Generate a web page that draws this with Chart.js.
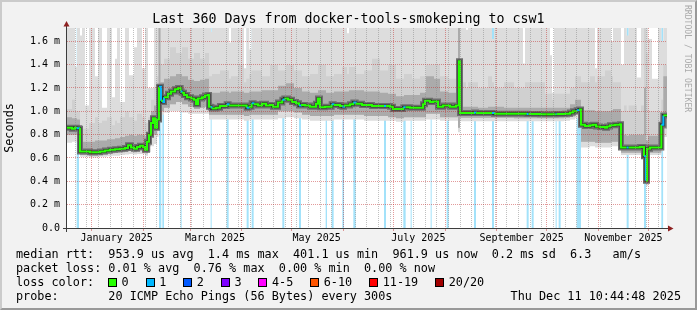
<!DOCTYPE html>
<html lang="en">
<head>
  <meta charset="UTF-8" />
  <title>Last 360 Days from docker-tools-smokeping to csw1</title>
  <script src="https://cdn.jsdelivr.net/npm/chart.js"></script>
  <style>
    html, body { margin: 0; padding: 0; }
    body {
      width: 697px; height: 310px; position: relative; overflow: hidden;
      background: #f2f2f2; color: #000;
      font-family: "DejaVu Sans Mono", monospace;
    }
    canvas { position: absolute; left: 0; top: 0; }
    .frame {
      position: absolute; left: 0; top: 0; width: 697px; height: 310px; box-sizing: border-box;
      border-top: 2px solid #cbcbcb; border-left: 2px solid #cbcbcb;
      border-right: 2px solid #999; border-bottom: 2px solid #999;
      pointer-events: none;
    }
    .title { position: absolute; top: 11px; left: 0; width: 697px; text-align: center; font-size: 13.3px; line-height: 16px; }
    .mark { position: absolute; left: 683px; top: 5px; writing-mode: vertical-rl; font-size: 8.1px; color: #aaa; white-space: pre; }
    .row { position: absolute; left: 16px; font-size: 11.8px; line-height: 14px; white-space: pre; }
    #lossLegend { position: absolute; left: 108px; top: 275px; height: 14px; display: flex; align-items: center; font-size: 11.8px; white-space: pre; }
    .item { display: flex; align-items: center; margin-right: 16.9px; }
    .sw { width: 7px; height: 7px; border: 1px solid #000; margin-right: 4.6px; }
  </style>
</head>
<body>
  <canvas id="smoke" width="697" height="310"></canvas>
  <div class="title">Last 360 Days from docker-tools-smokeping to csw1</div>
  <div class="mark">RRDTOOL / TOBI OETIKER</div>
  <div class="row" style="top:247px">median rtt:  953.9 us avg  1.4 ms max  401.1 us min  961.9 us now  0.2 ms sd  6.3   am/s</div>
  <div class="row" style="top:261px">packet loss: 0.01 % avg  0.76 % max  0.00 % min  0.00 % now</div>
  <div class="row" style="top:275px">loss color:</div>
  <div id="lossLegend"></div>
  <div class="row" style="top:289px">probe:       20 ICMP Echo Pings (56 Bytes) every 300s</div>
  <div class="row" style="top:289px; left:auto; right:16px">Thu Dec 11 10:44:48 2025</div>
  <div class="frame"></div>

  <script>
    // x values are days since the left edge of the graph, y values are milliseconds
    const medianDay = [
      0.0, 3.0, 4.8, 5.8, 7.2, 7.8, 13.8, 19.8, 22.8, 25.8,
      28.8, 31.8, 34.8, 36.6, 38.4, 40.2, 42.0, 43.8, 45.6, 46.8,
      48.0, 49.2, 50.4, 51.6, 52.8, 54.0, 55.2, 56.4, 57.2, 58.2,
      60.6, 62.4, 64.8, 66.6, 68.2, 68.8, 70.2, 72.0, 74.4, 76.2,
      77.4, 78.6, 81.0, 82.8, 84.6, 85.2, 86.2, 86.8, 89.4, 91.8,
      95.8, 97.0, 103.8, 107.8, 109.0, 110.8, 112.0, 114.6, 117.0, 119.4,
      121.8, 123.6, 126.6, 129.2, 130.4, 132.6, 135.0, 137.4, 139.2, 140.4,
      142.8, 145.8, 149.4, 150.6, 151.8, 154.8, 158.8, 160.0, 163.8, 165.2,
      166.2, 169.8, 171.8, 173.2, 177.0, 183.0, 190.2, 191.4, 193.8, 195.6,
      201.8, 203.2, 205.8, 211.8, 213.6, 214.8, 217.8, 219.6, 222.6, 225.6,
      229.8, 233.4, 235.2, 235.8, 244.2, 245.4, 255.0, 256.2, 266.0, 275.8,
      277.0, 283.8, 293.2, 293.8, 298.8, 301.8, 303.6, 305.8, 307.2, 308.4,
      310.8, 313.8, 315.6, 317.4, 319.8, 322.8, 324.0, 325.8, 328.8, 331.8,
      332.4, 335.8, 337.0, 343.8, 346.2, 347.4, 348.0, 349.8, 356.6, 357.8,
      360.0
    ];
    const medianMs = [
      0.86, 0.85, 0.86, 0.855, 0.85, 0.655, 0.65, 0.655, 0.665, 0.67,
      0.675, 0.68, 0.685, 0.71, 0.69, 0.68, 0.695, 0.705, 0.695, 0.67,
      0.74, 0.80, 0.90, 0.94, 0.86, 0.93, 1.21, 1.09, 1.08, 1.12,
      1.15, 1.17, 1.19, 1.20, 1.17, 1.16, 1.14, 1.12, 1.11, 1.10,
      1.06, 1.11, 1.12, 1.135, 1.14, 1.04, 1.035, 1.025, 1.03, 1.045,
      1.06, 1.05, 1.05, 1.03, 1.04, 1.07, 1.06, 1.05, 1.065, 1.05,
      1.055, 1.04, 1.075, 1.10, 1.11, 1.10, 1.08, 1.07, 1.05, 1.055,
      1.05, 1.04, 1.065, 1.11, 1.035, 1.04, 1.06, 1.055, 1.045, 1.04,
      1.05, 1.06, 1.075, 1.065, 1.055, 1.045, 1.045, 1.045, 1.04, 1.02,
      1.035, 1.035, 1.03, 1.03, 1.06, 1.09, 1.08, 1.085, 1.04, 1.05,
      1.04, 1.05, 1.43, 0.985, 0.99, 0.985, 0.985, 0.98, 0.98, 0.977,
      0.977, 0.975, 0.977, 0.977, 0.98, 0.99, 1.0, 1.01, 1.015, 0.885,
      0.875, 0.88, 0.885, 0.87, 0.865, 0.86, 0.87, 0.88, 0.885, 0.89,
      0.69, 0.69, 0.69, 0.695, 0.615, 0.405, 0.68, 0.69, 0.885, 0.965,
      0.965
    ];
    // lost pings (out of 20) for each median step
    const medianLoss = [
      0, 0, 0, 1, 0, 0, 0, 0, 0, 0,
      0, 0, 0, 0, 0, 0, 0, 0, 0, 0,
      0, 0, 0, 0, 0, 0, 1, 0, 1, 0,
      0, 0, 0, 0, 1, 0, 0, 0, 0, 0,
      0, 0, 0, 0, 0, 0, 1, 0, 0, 0,
      1, 0, 0, 1, 0, 1, 0, 0, 0, 0,
      0, 0, 0, 1, 0, 0, 0, 0, 1, 0,
      0, 0, 0, 0, 0, 0, 1, 0, 0, 1,
      0, 0, 1, 0, 0, 0, 1, 0, 0, 0,
      1, 0, 0, 0, 0, 0, 0, 0, 0, 0,
      0, 0, 0, 0, 1, 0, 1, 0, 0, 1,
      0, 0, 1, 0, 0, 0, 0, 1, 0, 0,
      0, 0, 0, 0, 0, 0, 0, 0, 0, 0,
      0, 1, 0, 0, 1, 0, 0, 0, 1, 0,
      0
    ];

    // smoke envelope (distribution of the 20 pings)
    const smokeDay = [
      0.0, 3.0, 4.8, 6.0, 7.8, 9.0, 10.8, 13.2, 16.8, 18.6,
      21.0, 24.0, 27.0, 28.8, 30.0, 31.8, 34.8, 37.2, 40.2, 42.0,
      45.0, 46.8, 48.6, 50.4, 52.2, 54.0, 54.9, 56.1, 58.2, 61.8,
      65.4, 69.0, 72.6, 76.2, 79.8, 82.8, 85.2, 86.4, 87.0, 91.8,
      97.2, 98.4, 102.6, 106.2, 107.6, 109.4, 110.6, 117.0, 121.8, 126.6,
      131.4, 136.2, 141.0, 145.8, 150.6, 155.4, 160.2, 165.0, 168.0, 169.2,
      173.4, 178.2, 183.0, 187.8, 192.6, 197.4, 202.2, 207.0, 211.8, 215.4,
      220.2, 223.8, 228.6, 232.8, 234.6, 235.8, 239.4, 240.6, 246.6, 252.6,
      255.0, 256.2, 262.2, 268.2, 273.6, 274.8, 280.8, 286.8, 289.8, 291.0,
      292.2, 298.2, 301.8, 304.8, 308.4, 313.8, 316.8, 318.0, 322.8, 326.4,
      327.6, 332.4, 334.2, 335.8, 337.0, 342.0, 344.4, 346.2, 347.4, 348.6,
      351.0, 354.6, 356.6, 357.8, 360.0
    ];
    const smokeMax = [
      1.75, 1.75, 1.38, 1.75, 1.65, 1.75, 1.05, 1.75, 1.30, 1.75,
      1.03, 1.75, 1.12, 1.45, 1.75, 1.08, 1.75, 1.31, 1.55, 1.75,
      1.37, 1.75, 1.20, 1.20, 1.75, 1.75, 1.75, 1.75, 1.75, 1.75,
      1.75, 1.75, 1.75, 1.75, 1.75, 1.75, 1.75, 1.68, 1.75, 1.75,
      1.59, 1.75, 1.75, 1.37, 1.75, 1.53, 1.75, 1.75, 1.75, 1.75,
      1.75, 1.75, 1.75, 1.75, 1.75, 1.75, 1.75, 1.75, 1.67, 1.75,
      1.75, 1.75, 1.75, 1.75, 1.75, 1.75, 1.75, 1.75, 1.75, 1.75,
      1.75, 1.75, 1.75, 1.75, 1.75, 1.75, 1.70, 1.75, 1.75, 1.75,
      1.62, 1.75, 1.75, 1.75, 1.41, 1.75, 1.75, 1.75, 1.48, 1.16,
      1.75, 1.75, 1.75, 1.75, 1.75, 1.75, 1.37, 1.75, 1.75, 1.60,
      1.75, 1.40, 1.75, 1.65, 1.75, 1.29, 1.75, 1.75, 1.75, 1.62,
      1.28, 1.75, 1.60, 1.75, 1.75
    ];
    const smokeMidHi = [
      1.02, 1.10, 1.00, 1.00, 0.82, 0.85, 0.85, 0.90, 0.95, 0.90,
      0.92, 0.95, 0.88, 0.92, 0.90, 0.95, 1.00, 0.95, 0.92, 0.98,
      0.95, 0.90, 0.95, 1.10, 1.20, 1.30, 1.75, 1.40, 1.45, 1.55,
      1.50, 1.55, 1.45, 1.50, 1.45, 1.50, 1.30, 1.30, 1.32, 1.35,
      1.28, 1.30, 1.40, 1.25, 1.28, 1.32, 1.35, 1.30, 1.40, 1.35,
      1.40, 1.35, 1.30, 1.32, 1.40, 1.30, 1.32, 1.38, 1.32, 1.38,
      1.32, 1.35, 1.45, 1.35, 1.40, 1.28, 1.32, 1.28, 1.30, 1.40,
      1.40, 1.30, 1.28, 1.28, 1.75, 1.25, 1.20, 1.25, 1.20, 1.30,
      1.25, 1.20, 1.25, 1.20, 1.20, 1.25, 1.25, 1.15, 1.15, 1.10,
      1.15, 1.15, 1.20, 1.30, 1.25, 1.30, 1.25, 1.30, 1.35, 1.30,
      1.25, 1.00, 1.05, 1.00, 1.05, 1.00, 1.05, 1.75, 1.50, 1.00,
      1.00, 1.00, 1.10, 1.40, 1.40
    ];
    const smokeDarkHi = [
      0.95, 0.94, 0.94, 0.93, 0.73, 0.74, 0.74, 0.74, 0.75, 0.75,
      0.75, 0.76, 0.76, 0.77, 0.77, 0.78, 0.79, 0.80, 0.79, 0.80,
      0.80, 0.78, 0.88, 1.00, 1.05, 1.10, 1.75, 1.25, 1.28, 1.30,
      1.32, 1.30, 1.27, 1.26, 1.27, 1.28, 1.16, 1.16, 1.16, 1.17,
      1.16, 1.17, 1.17, 1.16, 1.16, 1.17, 1.17, 1.18, 1.18, 1.22,
      1.24, 1.20, 1.17, 1.16, 1.18, 1.16, 1.17, 1.17, 1.17, 1.18,
      1.18, 1.17, 1.17, 1.16, 1.15, 1.13, 1.14, 1.14, 1.16, 1.30,
      1.28, 1.17, 1.16, 1.16, 1.75, 1.04, 1.04, 1.04, 1.03, 1.04,
      1.04, 1.04, 1.03, 1.03, 1.03, 1.03, 1.03, 1.03, 1.03, 1.03,
      1.03, 1.03, 1.06, 1.10, 1.01, 1.01, 1.00, 1.00, 1.00, 1.01,
      1.02, 0.80, 0.80, 0.79, 0.80, 0.80, 0.80, 1.20, 0.75, 0.79,
      0.79, 0.80, 0.95, 1.30, 1.30
    ];
    const smokeDarkLo = [
      0.80, 0.80, 0.80, 0.79, 0.625, 0.625, 0.625, 0.62, 0.62, 0.625,
      0.63, 0.635, 0.64, 0.645, 0.645, 0.65, 0.655, 0.66, 0.65, 0.66,
      0.66, 0.64, 0.70, 0.78, 0.80, 0.85, 0.95, 1.00, 1.03, 1.06,
      1.08, 1.06, 1.04, 1.02, 1.03, 1.04, 0.97, 0.97, 0.97, 0.97,
      0.97, 0.97, 0.97, 0.96, 0.96, 0.97, 0.97, 0.97, 0.97, 1.00,
      1.00, 0.99, 0.97, 0.96, 0.96, 0.96, 0.97, 0.97, 0.97, 0.97,
      0.97, 0.96, 0.96, 0.96, 0.95, 0.94, 0.95, 0.95, 0.95, 0.98,
      0.98, 0.95, 0.95, 0.95, 0.86, 0.945, 0.945, 0.945, 0.945, 0.945,
      0.945, 0.945, 0.945, 0.94, 0.94, 0.94, 0.94, 0.94, 0.94, 0.94,
      0.94, 0.945, 0.955, 0.97, 0.74, 0.74, 0.73, 0.73, 0.73, 0.74,
      0.74, 0.645, 0.645, 0.645, 0.645, 0.645, 0.645, 0.55, 0.38, 0.645,
      0.645, 0.645, 0.70, 0.85, 0.85
    ];
    const smokeMin = [
      0.73, 0.74, 0.74, 0.75, 0.61, 0.61, 0.61, 0.605, 0.605, 0.61,
      0.61, 0.615, 0.62, 0.62, 0.62, 0.625, 0.63, 0.635, 0.63, 0.635,
      0.635, 0.62, 0.65, 0.70, 0.72, 0.78, 0.85, 0.97, 0.99, 1.00,
      1.00, 0.99, 0.98, 0.98, 0.98, 0.98, 0.93, 0.93, 0.93, 0.93,
      0.93, 0.93, 0.93, 0.92, 0.92, 0.93, 0.93, 0.93, 0.93, 0.94,
      0.95, 0.94, 0.93, 0.92, 0.92, 0.92, 0.93, 0.93, 0.93, 0.93,
      0.93, 0.92, 0.92, 0.92, 0.92, 0.91, 0.92, 0.92, 0.92, 0.93,
      0.93, 0.92, 0.92, 0.92, 0.82, 0.915, 0.915, 0.915, 0.915, 0.915,
      0.915, 0.915, 0.915, 0.915, 0.915, 0.915, 0.915, 0.915, 0.915, 0.915,
      0.915, 0.92, 0.93, 0.94, 0.69, 0.70, 0.69, 0.69, 0.69, 0.70,
      0.70, 0.625, 0.625, 0.625, 0.625, 0.625, 0.625, 0.52, 0.36, 0.625,
      0.625, 0.625, 0.66, 0.78, 0.78
    ];

    // periods with packet loss (drawn as full-height background)
    const lossStart = [5.8, 55.2, 57.2, 68.2, 86.2, 95.8, 107.8, 110.8, 129.2, 139.2, 155.2, 158.8, 165.2, 171.8, 190.2,
                       201.8, 206.2, 218.2, 227.8, 244.2, 255.0, 275.8, 278.8, 293.2, 295.0, 305.8, 335.8, 346.2, 356.6];
    const lossEnd   = [7.2, 56.6, 58.2, 68.8, 86.8, 97.0, 109.0, 112.0, 130.4, 140.4, 156.0, 160.0, 166.2, 173.2, 191.4,
                       203.2, 206.8, 218.8, 229.0, 245.4, 256.2, 277.0, 280.0, 293.8, 296.2, 308.4, 337.0, 347.4, 357.8];

    const lossLabels = ['0', '1', '2', '3', '4-5', '6-10', '11-19', '20/20'];
    const lossColors = ['#26ff00', '#00b8ff', '#0059ff', '#7e00ff', '#ff00ff', '#ff5500', '#ff0000', '#a10000'];

    const monthLabels = ['January 2025', 'March 2025', 'May 2025', 'July 2025', 'September 2025', 'November 2025'];
    const yTicks = [0, 0.1, 0.2, 0.3, 0.4, 0.5, 0.6, 0.7, 0.8, 0.9, 1.0, 1.1, 1.2, 1.3, 1.4, 1.5, 1.6, 1.7];

    // ---- axis positions ----
    const START = Date.UTC(2024, 11, 17, 4, 48);
    const toDay = (y, m, d) => (Date.UTC(y, m, d) - START) / 864e5;
    const tickKind = new Map();
    for (let m = 0; m < 12; m++) tickKind.set(toDay(2025, m, 1), 'month');
    for (let d = toDay(2024, 11, 22); d < 360; d += 7) {
      const near = [...tickKind.keys()].some(v => Math.abs(v - d) < 0.5);
      if (!near) tickKind.set(d, 'week');
    }
    const labelAt = new Map();
    monthLabels.forEach((txt, i) => {
      const v = toDay(2025, 2 * i, 16);
      tickKind.set(v, 'label');
      labelAt.set(v, txt);
    });
    const xTickValues = [...tickKind.keys()].sort((a, b) => a - b);

    const GRID = 'rgba(140,140,140,0.55)';
    const MGRID = 'rgba(190,30,30,0.45)';
    const NONE = 'rgba(0,0,0,0)';
    const LOSS_TOP = 1.75;

    // legend swatches
    const legend = document.getElementById('lossLegend');
    lossLabels.forEach((txt, i) => {
      const item = document.createElement('span');
      item.className = 'item';
      item.innerHTML = '<span class="sw" style="background:' + lossColors[i] + '"></span>' + txt;
      legend.appendChild(item);
    });

    const pts = (xs, ys) => xs.map((x, i) => ({ x, y: ys[i] }));
    const lossPts = [{ x: 0, y: 0 }];
    lossStart.forEach((s, i) => {
      lossPts.push({ x: s, y: LOSS_TOP });
      lossPts.push({ x: lossEnd[i], y: 0 });
    });

    const base = { stepped: true, pointRadius: 0, borderWidth: 0, borderColor: NONE, fill: false, clip: 0 };

    const rrdFrame = {
      id: 'rrdFrame',
      beforeDraw(chart) {
        const { ctx, chartArea: a } = chart;
        ctx.save();
        ctx.fillStyle = '#ffffff';
        ctx.fillRect(a.left, a.top, a.right - a.left, a.bottom - a.top);
        ctx.restore();
      },
      afterDraw(chart) {
        const { ctx, chartArea: a } = chart;
        ctx.save();
        ctx.strokeStyle = '#3c3c3c';
        ctx.lineWidth = 1;
        ctx.beginPath();
        ctx.moveTo(a.left - 4, a.bottom + 0.5);
        ctx.lineTo(a.right + 2, a.bottom + 0.5);
        ctx.moveTo(a.left - 0.5, a.bottom + 4);
        ctx.lineTo(a.left - 0.5, a.top - 2);
        ctx.stroke();
        ctx.fillStyle = '#8e2121';
        ctx.beginPath();
        ctx.moveTo(a.right + 1, a.bottom - 2.5);
        ctx.lineTo(a.right + 6.5, a.bottom + 0.5);
        ctx.lineTo(a.right + 1, a.bottom + 3.5);
        ctx.closePath();
        ctx.fill();
        ctx.beginPath();
        ctx.moveTo(a.left - 3.5, a.top - 1.5);
        ctx.lineTo(a.left - 0.5, a.top - 7);
        ctx.lineTo(a.left + 2.5, a.top - 1.5);
        ctx.closePath();
        ctx.fill();
        ctx.restore();
      }
    };

    Chart.defaults.font.family = '"DejaVu Sans Mono", monospace';
    Chart.defaults.color = '#000';

    new Chart(document.getElementById('smoke').getContext('2d'), {
      type: 'line',
      data: {
        datasets: [
          // 0: median, coloured by loss
          Object.assign({}, base, {
            data: pts(medianDay, medianMs), borderWidth: 2, borderColor: lossColors[0], order: 1,
            segment: { borderColor: c => lossColors[medianLoss[c.p0DataIndex]] }
          }),
          // 1, 2: dark core of the smoke around the median
          Object.assign({}, base, { data: pts(medianDay, medianMs), borderWidth: 3, borderColor: '#2e2e2e', order: 2 }),
          Object.assign({}, base, { data: pts(medianDay, medianMs), borderWidth: 6, borderColor: '#6e6e6e', order: 3 }),
          // 3: dark smoke band
          Object.assign({}, base, { data: pts(smokeDay, smokeDarkHi), fill: { target: 6 }, backgroundColor: '#ababab', order: 4 }),
          // 4: medium smoke band
          Object.assign({}, base, { data: pts(smokeDay, smokeMidHi), fill: { target: 6 }, backgroundColor: '#d0d0d0', order: 5 }),
          // 5: light smoke, min to max
          Object.assign({}, base, { data: pts(smokeDay, smokeMax), fill: { target: 7 }, backgroundColor: '#dddddd', order: 6 }),
          // 6, 7: lower bounds
          Object.assign({}, base, { data: pts(smokeDay, smokeDarkLo), order: 7 }),
          Object.assign({}, base, { data: pts(smokeDay, smokeMin), order: 8 }),
          // 8: loss background
          Object.assign({}, base, { data: lossPts, fill: 'origin', backgroundColor: '#a3e2fa', order: 9 })
        ]
      },
      options: {
        responsive: false,
        animation: false,
        events: [],
        layout: { padding: { top: 28, right: 30, left: 0, bottom: 0 } },
        plugins: { legend: { display: false }, tooltip: { enabled: false } },
        scales: {
          x: {
            type: 'linear', min: 0, max: 360,
            afterBuildTicks: axis => { axis.ticks = xTickValues.map(v => ({ value: v })); },
            afterFit: axis => { axis.height = 82; },
            ticks: {
              autoSkip: false, maxRotation: 0, minRotation: 0, padding: 1,
              font: { size: 10 },
              callback: v => labelAt.get(v) || ''
            },
            grid: {
              z: 1, lineWidth: 1, tickLength: 3,
              color: c => {
                const k = c.tick ? tickKind.get(c.tick.value) : null;
                return k === 'month' ? MGRID : k === 'week' ? GRID : NONE;
              },
              tickColor: c => (c.tick && tickKind.get(c.tick.value) === 'month') ? MGRID : NONE
            },
            border: { display: false, dash: [1, 1] }
          },
          y: {
            min: 0, max: 1.714,
            afterBuildTicks: axis => { axis.ticks = yTicks.map(v => ({ value: v })); },
            afterFit: axis => { axis.width = 67; },
            ticks: {
              padding: 7,
              font: { size: 10 },
              callback: v => {
                if (Math.round(v * 10) % 2 !== 0) return '';
                return v === 0 ? '0.0' : v.toFixed(1) + ' m';
              }
            },
            grid: {
              z: 1, lineWidth: 1, drawTicks: false,
              color: c => {
                if (!c.tick) return NONE;
                return Math.round(c.tick.value * 10) % 2 === 0 ? MGRID : GRID;
              }
            },
            border: { display: false, dash: [1, 1] },
            title: { display: true, text: 'Seconds', font: { size: 11.8 }, padding: { top: 3, bottom: 0 } }
          }
        }
      },
      plugins: [rrdFrame]
    });
  </script>
</body>
</html>
